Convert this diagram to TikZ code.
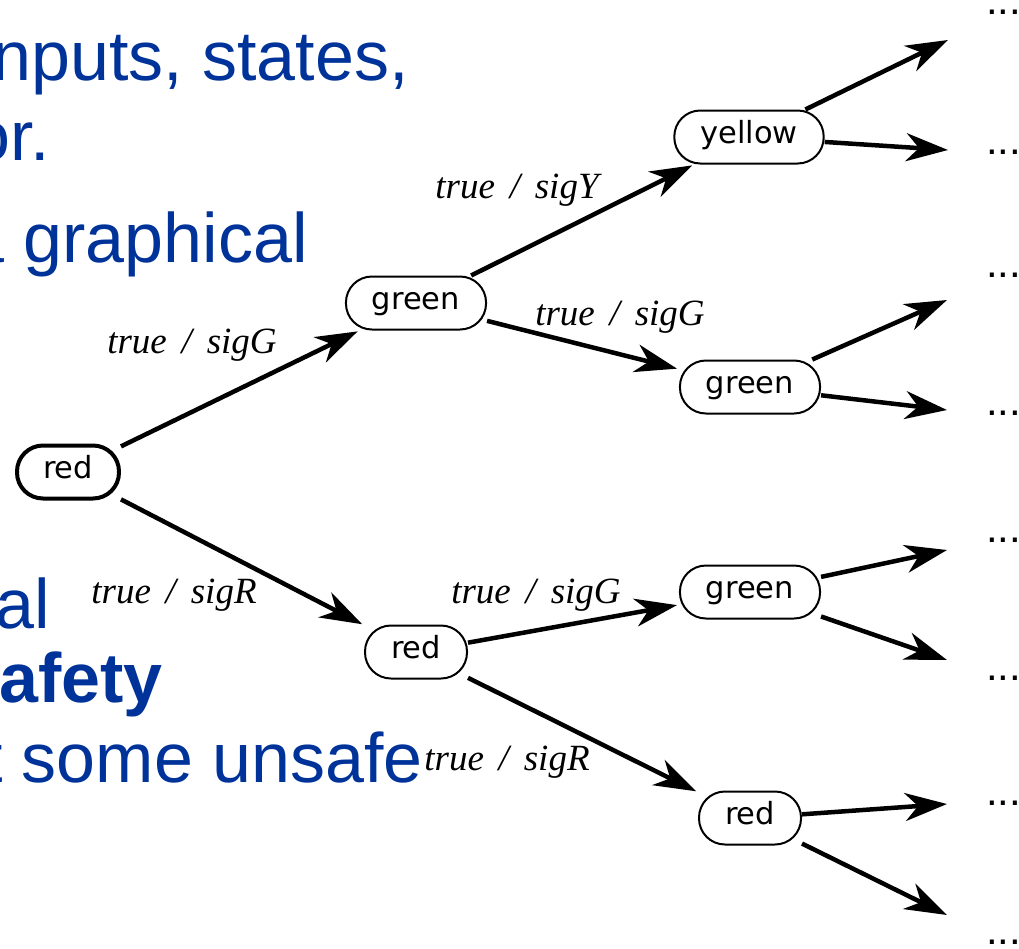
\documentclass[tikz,border=0pt]{standalone}
\usepackage{fontspec}
\setmainfont{Liberation Serif}
\newfontfamily\statefont{DejaVu Sans}
\newfontfamily\slidefont{Liberation Sans}
\usetikzlibrary{arrows.meta}
\definecolor{slideblue}{RGB}{0,51,153}

\begin{document}
\begin{tikzpicture}[x=1pt,y=-1pt,
  state/.style={draw, line width=2pt, rounded corners=26pt, minimum height=53pt,
    inner xsep=26pt, inner ysep=0pt, text height=20pt, text depth=7pt,
    font=\statefont\fontsize{30.5}{36}\selectfont},
  initial/.style={state, line width=4pt},
  trans/.style={line width=4.5pt, -{Stealth[length=42pt,width=28pt,inset=13pt]},
    shorten >=2pt},
  guard/.style={font=\fontsize{37}{44}\selectfont\itshape, inner sep=0pt},
  more/.style={font=\slidefont\fontsize{42}{48}\selectfont, anchor=base west, inner sep=0pt},
  slide/.style={text=slideblue, font=\slidefont\fontsize{70}{80}\selectfont,
    anchor=base east, inner sep=0pt}]

\useasboundingbox (0,0) rectangle (1019,948);
\fill[white] (0,0) rectangle (1019,948);
\clip (0,0) rectangle (1019,948);

% slide text behind the tree
\node[slide] (l1) at (409,80) {nputs, states,};
\node[slide] (l2) at (50,160) {or.};
\node[slide] (l3) at (308,262) {a graphical};
\node[slide] (l4) at (50,628) {al};
\node[slide, font=\slidefont\bfseries\fontsize{70}{80}\selectfont] (l5) at (163,702) {afety};
\node[slide] (l6) at (423,782) {t some unsafe};

% computation tree states
\node[initial] (r0) at (68,472) {red};
\node[state] (g1) at (416,303) {green};
\node[state] (r1) at (416,652) {red};
\node[state] (y2) at (749,137) {yellow};
\node[state] (g2) at (750,387) {green};
\node[state] (g3) at (750,592) {green};
\node[state] (r3) at (750,818) {red};

% transitions
\draw[trans] (r0) -- (g1);
\draw[trans] (r0) -- (r1);
\draw[trans] (g1) -- (y2);
\draw[trans] (g1) -- (g2);
\draw[trans] (r1) -- (g3);
\draw[trans] (r1) -- (r3);

% transition labels
\node[guard] (t1) at (192,345) {true\hspace{0.4em}/\hspace{0.4em}sigG};
\node[guard] (t2) at (174,595) {true\hspace{0.4em}/\hspace{0.4em}sigR};
\node[guard] (t3) at (517,190) {true\hspace{0.4em}/\hspace{0.4em}sigY};
\node[guard] (t4) at (620,317) {true\hspace{0.4em}/\hspace{0.4em}sigG};
\node[guard] (t5) at (536,595) {true\hspace{0.4em}/\hspace{0.4em}sigG};
\node[guard] (t6) at (507,762) {true\hspace{0.4em}/\hspace{0.4em}sigR};

% continuations of the tree
\coordinate (e1) at (948,40);
\coordinate (e2) at (948,150);
\coordinate (e3) at (947,300);
\coordinate (e4) at (947,410);
\coordinate (e5) at (947,550);
\coordinate (e6) at (947,660);
\coordinate (e7) at (947,804);
\coordinate (e8) at (947,915);
\draw[trans, shorten >=0pt] (y2) -- (e1);
\draw[trans, shorten >=0pt] (y2) -- (e2);
\draw[trans, shorten >=0pt] (g2) -- (e3);
\draw[trans, shorten >=0pt] (g2) -- (e4);
\draw[trans, shorten >=0pt] (g3) -- (e5);
\draw[trans, shorten >=0pt] (g3) -- (e6);
\draw[trans, shorten >=0pt] (r3) -- (e7);
\draw[trans, shorten >=0pt] (r3) -- (e8);

\node[more] (d1) at (986,14) {...};
\node[more] (d2) at (986,154) {...};
\node[more] (d3) at (986,277) {...};
\node[more] (d4) at (986,415) {...};
\node[more] (d5) at (986,542) {...};
\node[more] (d6) at (986,680) {...};
\node[more] (d7) at (986,805) {...};
\node[more] (d8) at (986,944) {...};
\end{tikzpicture}
\end{document}
